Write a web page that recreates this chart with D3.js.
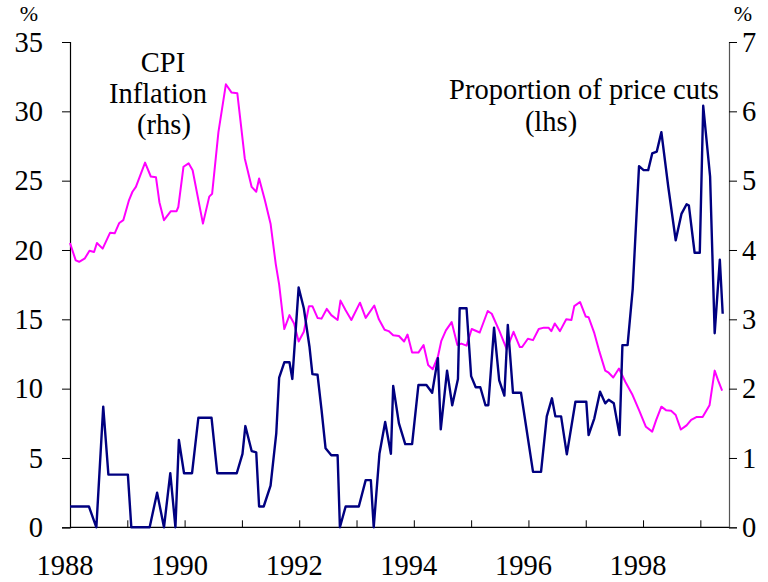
<!DOCTYPE html>
<html>
<head>
<meta charset="utf-8">
<script src="https://cdn.jsdelivr.net/npm/d3@7"></script>
<style>
    body { margin: 0; background: #fff; }
    svg text { font-family: "Times New Roman", "Liberation Serif", "DejaVu Serif", serif !important; fill: #000; }
</style>
</head>
<body>
<div id="chart"></div>
<script>
// proportion of price cuts (lhs), year fraction and per cent
var cutsYear = [1988.0, 1988.33, 1988.46, 1988.58, 1988.67, 1989.01, 1989.07, 1989.39, 1989.52, 1989.64,
    1989.75, 1989.84, 1989.9, 1989.99, 1990.13, 1990.24, 1990.47, 1990.57, 1990.91, 1991.01,
    1991.06, 1991.17, 1991.25, 1991.3, 1991.38, 1991.5, 1991.6, 1991.65, 1991.74, 1991.83,
    1991.88, 1991.99, 1992.08, 1992.18, 1992.23, 1992.32, 1992.39, 1992.46, 1992.56, 1992.67,
    1992.71, 1992.81, 1993.04, 1993.16, 1993.25, 1993.3, 1993.4, 1993.5, 1993.6, 1993.64,
    1993.74, 1993.85, 1993.97, 1994.08, 1994.22, 1994.32, 1994.42, 1994.47, 1994.58, 1994.67,
    1994.77, 1994.8, 1994.92, 1995.0, 1995.08, 1995.16, 1995.25, 1995.3, 1995.4, 1995.49,
    1995.58, 1995.64, 1995.73, 1995.87, 1996.08, 1996.22, 1996.32, 1996.41, 1996.47, 1996.57,
    1996.67, 1996.82, 1997.01, 1997.05, 1997.15, 1997.25, 1997.34, 1997.4, 1997.49, 1997.59,
    1997.64, 1997.73, 1997.82, 1997.93, 1998.01, 1998.09, 1998.16, 1998.24, 1998.32, 1998.44,
    1998.57, 1998.67, 1998.76, 1998.8, 1998.9, 1998.99, 1999.05, 1999.17, 1999.25, 1999.34,
    1999.39];
var cutsValue = [1.5, 1.5, 0, 8.7, 3.8, 3.8, 0, 0, 2.5, 0,
    3.9, 0, 6.3, 3.9, 3.9, 7.9, 7.9, 3.9, 3.9, 5.3,
    7.3, 5.5, 5.4, 1.5, 1.5, 3.0, 6.8, 10.8, 11.9, 11.9,
    10.7, 17.3, 15.8, 13.0, 11.05, 11.0, 8.45, 5.7, 5.2, 5.2,
    0, 1.5, 1.5, 3.4, 3.4, 0, 5.3, 7.6, 5.3, 10.2,
    7.5, 6.0, 6.0, 10.26, 10.26, 9.7, 12.2, 7.06, 11.3, 8.8,
    10.7, 15.8, 15.8, 10.9, 10.1, 10.1, 8.8, 8.8, 14.4, 10.6,
    9.5, 14.6, 9.7, 9.7, 4.0, 4.0, 8.0, 9.3, 8.0, 8.0,
    5.26, 9.05, 9.05, 6.65, 7.86, 9.78, 8.94, 9.2, 8.94, 6.65,
    13.14, 13.14, 17.2, 26.05, 25.76, 25.76, 26.96, 27.1, 28.5, 24.56,
    20.7, 22.6, 23.3, 23.2, 19.8, 19.8, 30.4, 25.3, 14.0, 19.3,
    15.4];

// CPI inflation (rhs)
var cpiYear = [1988.0, 1988.1, 1988.16, 1988.26, 1988.34, 1988.42, 1988.47, 1988.57, 1988.7, 1988.78,
    1988.86, 1988.93, 1989.03, 1989.09, 1989.15, 1989.31, 1989.41, 1989.5, 1989.56, 1989.64,
    1989.76, 1989.86, 1989.89, 1989.98, 1990.07, 1990.14, 1990.32, 1990.43, 1990.48, 1990.59,
    1990.72, 1990.82, 1990.92, 1991.05, 1991.17, 1991.25, 1991.3, 1991.4, 1991.5, 1991.59,
    1991.65, 1991.74, 1991.83, 1991.91, 1991.99, 1992.08, 1992.17, 1992.23, 1992.32, 1992.39,
    1992.48, 1992.56, 1992.67, 1992.72, 1992.81, 1992.91, 1993.06, 1993.16, 1993.31, 1993.39,
    1993.49, 1993.56, 1993.64, 1993.74, 1993.83, 1993.89, 1993.97, 1994.08, 1994.17, 1994.25,
    1994.33, 1994.42, 1994.48, 1994.56, 1994.66, 1994.76, 1994.83, 1994.92, 1995.01, 1995.15,
    1995.29, 1995.36, 1995.5, 1995.62, 1995.74, 1995.85, 1995.89, 1995.99, 1996.08, 1996.18,
    1996.27, 1996.35, 1996.4, 1996.46, 1996.55, 1996.66, 1996.75, 1996.8, 1996.9, 1997.0,
    1997.05, 1997.15, 1997.24, 1997.34, 1997.4, 1997.48, 1997.58, 1997.69, 1997.81, 1997.93,
    1998.05, 1998.16, 1998.23, 1998.32, 1998.4, 1998.49, 1998.57, 1998.66, 1998.76, 1998.84,
    1998.93, 1999.04, 1999.16, 1999.25, 1999.31, 1999.38];
var cpiValue = [4.1, 3.85, 3.83, 3.88, 3.99, 3.97, 4.1, 4.02, 4.25, 4.24,
    4.39, 4.43, 4.72, 4.84, 4.91, 5.26, 5.06, 5.05, 4.69, 4.43,
    4.56, 4.56, 4.62, 5.2, 5.25, 5.15, 4.38, 4.77, 4.81, 5.7,
    6.39, 6.27, 6.26, 5.32, 4.91, 4.84, 5.03, 4.72, 4.38, 3.8,
    3.5, 2.86, 3.06, 2.94, 2.68, 2.82, 3.19, 3.19, 3.02, 3.01,
    3.15, 3.06, 2.99, 3.27, 3.13, 2.99, 3.24, 3.02, 3.2, 3.0,
    2.85, 2.83, 2.77, 2.76, 2.68, 2.78, 2.52, 2.52, 2.63, 2.34,
    2.28, 2.46, 2.69, 2.84, 2.96, 2.63, 2.65, 2.62, 2.86, 2.81,
    3.12, 3.08, 2.82, 2.57, 2.82, 2.6, 2.6, 2.72, 2.7, 2.86,
    2.88, 2.88, 2.83, 2.94, 2.83, 3.0, 2.99, 3.19, 3.25, 3.04,
    3.03, 2.8, 2.53, 2.26, 2.23, 2.16, 2.29, 2.1, 1.92, 1.69,
    1.45, 1.38, 1.55, 1.74, 1.69, 1.68, 1.62, 1.41, 1.47, 1.55,
    1.59, 1.59, 1.76, 2.26, 2.12, 1.97];

var yearTicks = [1989, 1990, 1991, 1992, 1993, 1994, 1995, 1996, 1997, 1998, 1999];
var yearLabels = [1988, 1990, 1992, 1994, 1996, 1998];
var leftTicks = [0, 5, 10, 15, 20, 25, 30, 35];
var rightTicks = [0, 1, 2, 3, 4, 5, 6, 7];

var width = 768,
    height = 582,
    margin = { top: 42, right: 39, bottom: 54.7, left: 70 },
    fontSize = 28.5,
    serif = '"Times New Roman", "Liberation Serif", "DejaVu Serif", serif';

var chartWidth = width - margin.left - margin.right,
    chartHeight = height - margin.top - margin.bottom;

var xScale = d3.scaleLinear().domain([1988, 1999.5]).range([0, chartWidth]);
var yLeft = d3.scaleLinear().domain([0, 35]).range([chartHeight, 0]);
var yRight = d3.scaleLinear().domain([0, 7]).range([chartHeight, 0]);

var svg = d3.select('#chart').append('svg')
    .attr('width', width)
    .attr('height', height)
    .attr('font-family', serif);

var g = svg.append('g')
    .attr('transform', 'translate(' + margin.left + ',' + margin.top + ')');

// axes
var xAxis = d3.axisBottom(xScale).tickValues(yearTicks).tickSize(-7).tickFormat('');
var leftAxis = d3.axisLeft(yLeft).tickValues(leftTicks).tickSize(8).tickFormat(d3.format('d'));
var rightAxis = d3.axisRight(yRight).tickValues(rightTicks).tickSize(8).tickFormat(d3.format('d'));

var gx = g.append('g')
    .attr('transform', 'translate(0,' + chartHeight + ')')
    .call(xAxis);
gx.select('.domain').attr('d', 'M0,0H' + chartWidth);

var gl = g.append('g').call(leftAxis);
var gr = g.append('g').attr('transform', 'translate(' + chartWidth + ',0)').call(rightAxis);

[gx, gl, gr].forEach(function (a) {
    a.attr('font-family', serif).attr('font-size', fontSize);
    a.selectAll('.domain').attr('stroke', '#000').attr('stroke-width', 1.2);
    a.selectAll('.tick line').attr('stroke', '#000').attr('stroke-width', 1);
    a.selectAll('.tick text').attr('fill', '#000');
});
gr.select('.domain').attr('stroke', '#555');
gl.selectAll('.tick text').attr('x', -27);
gr.selectAll('.tick text').attr('x', 13);

// year labels sit under the ticks
g.selectAll('.yearLabel')
    .data(yearLabels)
    .enter().append('text')
    .attr('class', 'yearLabel')
    .attr('x', function (d) { return xScale(d) - 5; })
    .attr('y', chartHeight + 48)
    .attr('text-anchor', 'middle')
    .attr('font-size', fontSize)
    .text(function (d) { return d; });

// lines
var cutsLine = d3.line()
    .x(function (d, i) { return xScale(cutsYear[i]); })
    .y(function (d) { return yLeft(d); });

var cpiLine = d3.line()
    .x(function (d, i) { return xScale(cpiYear[i]); })
    .y(function (d) { return yRight(d); });

g.append('path')
    .attr('d', cpiLine(cpiValue))
    .attr('fill', 'none')
    .attr('stroke', '#ff00ff')
    .attr('stroke-width', 2)
    .attr('stroke-linejoin', 'round');

g.append('path')
    .attr('d', cutsLine(cutsValue))
    .attr('fill', 'none')
    .attr('stroke', '#000080')
    .attr('stroke-width', 2.4)
    .attr('stroke-linejoin', 'round');

// unit labels
svg.append('text').attr('x', 29).attr('y', 21).attr('text-anchor', 'middle')
    .attr('font-size', 22).text('%');
svg.append('text').attr('x', 743).attr('y', 21).attr('text-anchor', 'middle')
    .attr('font-size', 22).text('%');

// series notes
var cpiNote = svg.append('text').attr('text-anchor', 'middle').attr('font-size', fontSize);
cpiNote.append('tspan').attr('x', 163).attr('y', 72).text('CPI');
cpiNote.append('tspan').attr('x', 158).attr('y', 103).text('Inflation');
cpiNote.append('tspan').attr('x', 164).attr('y', 134).text('(rhs)');

var cutsNote = svg.append('text').attr('text-anchor', 'middle').attr('font-size', fontSize);
cutsNote.append('tspan').attr('x', 584).attr('y', 99).text('Proportion of price cuts');
cutsNote.append('tspan').attr('x', 551).attr('y', 131).text('(lhs)');
</script>
</body>
</html>
